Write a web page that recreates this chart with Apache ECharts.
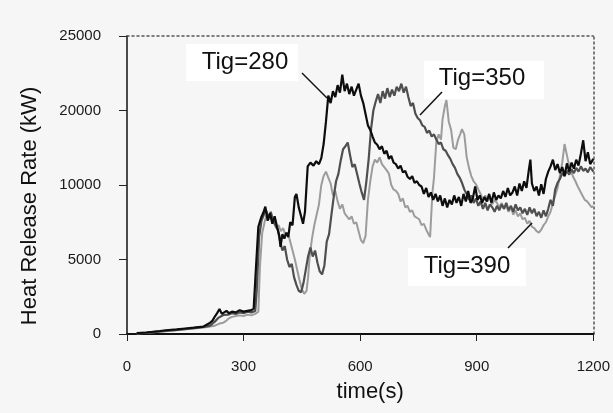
<!DOCTYPE html>
<html><head><meta charset="utf-8">
<script src="https://cdn.jsdelivr.net/npm/echarts@6/dist/echarts.min.js"></script>
<style>html,body{margin:0;padding:0;background:#f6f6f6}#c{width:613px;height:413px}</style>
</head><body><div id="c"></div>
<script>
// ---- data (kW as labelled on the original axis) ----
const xTicks = [0, 300, 600, 900, 1200];
const yTickValues = [0, 5000, 10000, 20000, 25000];
const seriesNames = ['Tig=280', 'Tig=350', 'Tig=390'];

const hrr280 = [[25,60],[50,100],[85,200],[100,250],[128,310],[150,370],[172,430],[197,500],[213,740],[220,900],[226,1170],[232,1400],[238,1680],[244,1350],[250,1450],[256,1550],[262,1400],[270,1500],[280,1450],[290,1600],[300,1500],[310,1550],[320,1600],[326,1700],[332,4500],[338,7200],[345,7800],[351,8150],[356,8550],[362,7600],[368,8100],[374,7400],[380,7900],[386,7200],[392,6600],[395,5850],[400,6700],[405,6400],[410,6800],[415,6500],[420,7500],[426,7300],[432,9200],[436,9400],[442,8500],[448,7900],[453,7400],[458,8200],[465,12500],[472,13000],[480,12600],[487,13200],[494,12800],[500,13600],[506,15500],[512,18500],[518,21000],[524,20500],[530,21300],[536,20900],[542,21700],[548,21200],[554,22400],[560,21300],[566,21800],[572,21100],[578,21600],[584,21000],[590,21400],[596,21800],[602,21000],[608,20500],[614,19500],[620,18000],[626,17400],[632,16500],[638,15700],[644,15400],[650,14800],[656,15200],[662,14200],[668,14600],[674,13500],[680,13900],[686,13000],[692,12800],[698,12200],[704,12600],[710,11700],[716,11900],[722,11100],[728,10800],[734,11200],[740,10300],[746,10500],[752,10000],[758,9900],[764,9400],[770,9800],[776,9200],[782,9500],[788,9000],[794,9400],[800,8900],[806,9300],[812,8600],[818,9100],[824,8500],[830,9000],[836,8700],[842,9300],[848,8800],[854,9200],[860,8600],[866,9400],[872,8900],[878,9600],[884,8800],[890,9100],[896,9900],[902,9000],[908,9300],[914,8800],[920,9200],[926,8900],[932,9400],[938,8800],[944,9500],[950,9000],[956,9300],[962,9100],[968,9600],[974,9200],[980,9800],[986,9300],[992,9500],[998,9900],[1004,9300],[1010,10200],[1016,9600],[1022,10500],[1028,9800],[1034,12000],[1038,13400],[1042,10200],[1048,9600],[1054,9900],[1060,9300],[1066,10100],[1072,9400],[1078,10800],[1084,11800],[1090,12500],[1096,13400],[1102,12000],[1108,12800],[1114,11600],[1120,12400],[1126,11200],[1132,12900],[1138,11800],[1144,13000],[1150,12200],[1156,13400],[1162,12600],[1168,14200],[1174,16000],[1180,13200],[1186,14400],[1192,12800],[1200,13500]];

const hrr350 = [[25,50],[50,90],[85,180],[128,280],[172,400],[197,480],[213,550],[226,830],[236,1100],[248,1280],[260,1300],[270,1400],[280,1350],[290,1450],[300,1400],[310,1500],[320,1450],[330,1550],[334,3000],[340,6500],[346,7600],[352,8000],[358,8300],[364,7800],[370,8200],[376,7600],[382,7300],[388,7000],[394,6200],[400,5600],[406,5900],[412,5000],[418,4500],[424,4700],[430,3800],[436,3300],[442,2900],[448,2800],[454,3400],[460,4300],[466,5200],[472,5800],[478,5200],[484,5600],[490,4800],[496,4200],[502,4000],[508,4600],[514,6200],[520,6700],[526,8000],[532,9200],[538,10500],[544,11500],[550,13300],[556,14800],[562,15200],[568,15700],[574,14000],[580,12400],[586,12800],[592,11500],[598,10200],[604,9500],[610,9000],[616,10500],[622,13500],[628,17500],[634,20000],[640,20600],[646,21100],[652,20500],[658,21300],[664,20800],[670,21500],[676,20900],[682,21400],[688,21000],[694,21600],[700,21300],[706,21800],[712,21200],[718,21600],[724,20900],[730,20300],[736,20500],[742,19600],[748,19000],[754,18700],[760,18000],[766,17800],[772,17000],[778,17300],[784,16500],[790,16800],[796,16100],[802,15500],[808,15700],[814,14800],[820,14600],[826,14000],[832,13500],[838,12800],[844,12300],[850,11500],[856,11000],[862,10300],[868,9700],[874,9400],[880,9000],[886,9300],[892,8800],[898,9100],[904,8600],[910,8900],[916,8400],[922,8800],[928,8300],[934,8700],[940,8500],[946,8200],[952,8600],[958,8300],[964,8700],[970,8400],[976,8800],[982,8300],[988,8600],[994,8200],[1000,8700],[1006,8300],[1012,8500],[1018,8100],[1024,8400],[1030,8000],[1036,8500],[1042,8100],[1048,8400],[1054,7900],[1060,8200],[1066,7800],[1072,8300],[1078,7900],[1084,8400],[1090,9000],[1096,8600],[1102,9700],[1108,10300],[1114,10800],[1120,11600],[1126,11200],[1132,11900],[1138,11400],[1144,12100],[1150,11600],[1156,12300],[1162,11800],[1168,12500],[1174,11900],[1180,12200],[1186,11700],[1192,12400],[1200,11800]];

const hrr390 = [[25,40],[50,80],[85,150],[128,250],[172,370],[197,430],[213,500],[226,560],[238,700],[248,760],[256,900],[262,1050],[270,1150],[280,1200],[290,1250],[300,1200],[310,1300],[320,1250],[330,1350],[338,1500],[342,4500],[348,6800],[354,7500],[360,8100],[366,7700],[372,7900],[378,7500],[384,7100],[390,7300],[396,6900],[402,7100],[408,6600],[414,6800],[420,6200],[426,5600],[432,5000],[438,4300],[444,3600],[450,3000],[456,2700],[462,2900],[466,3800],[470,5200],[476,6400],[482,7300],[488,8000],[494,8700],[500,10000],[506,11200],[512,11800],[518,11000],[524,10200],[530,9300],[536,9600],[542,8900],[548,8400],[554,8700],[560,8100],[566,7900],[572,7700],[578,7900],[584,7400],[590,7500],[596,6900],[602,6300],[608,6100],[614,6600],[620,9000],[626,10500],[632,12500],[638,13400],[644,13000],[650,13700],[656,12800],[662,12400],[668,12000],[674,11500],[680,10000],[686,9700],[692,9600],[698,9400],[704,8900],[710,9100],[716,8500],[722,8600],[728,8200],[734,8300],[740,7900],[746,7800],[752,7700],[758,7300],[764,7400],[770,7000],[776,6700],[780,6500],[786,9500],[790,11000],[796,15800],[802,16800],[808,16100],[812,18800],[818,20300],[822,20700],[828,18500],[834,17400],[840,15000],[846,14800],[852,16100],[858,16900],[862,17500],[868,16800],[874,13800],[880,12300],[886,11200],[892,10500],[898,10100],[904,9700],[910,9400],[916,9000],[922,9300],[928,8900],[934,9200],[940,8700],[946,9000],[952,8800],[958,8500],[964,8800],[970,8400],[976,8600],[982,8200],[988,8500],[994,8000],[1000,8300],[1006,7900],[1012,8100],[1018,7700],[1024,7800],[1030,7400],[1036,7600],[1042,7200],[1048,7100],[1054,6900],[1060,6800],[1066,7000],[1072,7300],[1078,7500],[1084,7900],[1090,8200],[1096,8800],[1102,9300],[1108,9800],[1114,11200],[1120,13000],[1126,15500],[1130,14500],[1136,13000],[1142,12000],[1148,11100],[1154,10500],[1160,9900],[1166,9600],[1172,9300],[1178,9000],[1184,8900],[1190,8700],[1196,8500],[1200,8600]];

// The original y axis is evenly spaced between labelled ticks (0,5000,10000,20000,25000):
// map kW onto that tick-slot scale piecewise-linearly.
function toSlot(v) {
  for (let i = 0; i < yTickValues.length - 1; i++) {
    const a = yTickValues[i], b = yTickValues[i + 1];
    if (v <= b || i === yTickValues.length - 2) return i + (v - a) / (b - a);
  }
}
const mapData = arr => arr.map(p => [p[0], toSlot(p[1])]);

const FONT = "'Liberation Sans', Arial, sans-serif";
const chart = echarts.init(document.getElementById('c'), null, { renderer: 'canvas' });

const option = {
  backgroundColor: '#f6f6f6',
  animation: false,
  grid: { left: 127, right: 17, top: 36, bottom: 79, containLabel: false },
  xAxis: [{
    type: 'value', min: xTicks[0], max: xTicks[xTicks.length - 1], interval: 300,
    name: 'time(s)', nameLocation: 'middle', nameGap: 47,
    nameTextStyle: { fontFamily: FONT, fontSize: 22, color: '#111', padding: [0, 0, 0, 20] },
    axisLine: { show: true, onZero: false, lineStyle: { color: '#111', width: 2 } },
    axisTick: { show: true, inside: false, length: 7, lineStyle: { color: '#222', width: 1 } },
    axisLabel: { fontFamily: FONT, fontSize: 15, color: '#1a1a1a', margin: 25, formatter: v => String(v) },
    splitLine: { show: false }
  }, {
    type: 'value', position: 'top', min: 0, max: 1200,
    axisLine: { show: true, onZero: false, lineStyle: { color: '#555', width: 1.5, type: [2, 3] } },
    axisTick: { show: false }, axisLabel: { show: false }, splitLine: { show: false }
  }],
  yAxis: [{
    type: 'value', min: 0, max: yTickValues.length - 1, interval: 1,
    name: 'Heat Release Rate (kW)', nameLocation: 'middle', nameGap: 86, nameRotate: 90,
    nameTextStyle: { fontFamily: FONT, fontSize: 22, color: '#111', padding: [0, 42, 0, 0] },
    axisLine: { show: true, onZero: false, lineStyle: { color: '#111', width: 1.5 } },
    axisTick: { show: true, inside: false, length: 8, lineStyle: { color: '#222', width: 1 } },
    axisLabel: { fontFamily: FONT, fontSize: 15, color: '#1a1a1a', margin: 26,
      formatter: v => String(yTickValues[Math.round(v)]) },
    splitLine: { show: false }
  }, {
    type: 'value', position: 'right', min: 0, max: yTickValues.length - 1,
    axisLine: { show: true, onZero: false, lineStyle: { color: '#555', width: 1.5, type: [2, 3] } },
    axisTick: { show: false }, axisLabel: { show: false }, splitLine: { show: false }
  }],
  series: [
    { name: seriesNames[2], type: 'line', data: mapData(hrr390), showSymbol: false, symbol: 'none',
      lineStyle: { color: '#9c9c9c', width: 2 }, z: 2 },
    { name: seriesNames[1], type: 'line', data: mapData(hrr350), showSymbol: false, symbol: 'none',
      lineStyle: { color: '#4f4f4f', width: 2.2 }, z: 3 },
    { name: seriesNames[0], type: 'line', data: mapData(hrr280), showSymbol: false, symbol: 'none',
      lineStyle: { color: '#0d0d0d', width: 2.2 }, z: 4 }
  ],
  graphic: [
    { type: 'rect', shape: { x: 186, y: 44, width: 112, height: 37 }, style: { fill: '#ffffff' }, z: 10 },
    { type: 'rect', shape: { x: 424, y: 61, width: 120, height: 38 }, style: { fill: '#ffffff' }, z: 10 },
    { type: 'rect', shape: { x: 408, y: 248, width: 118, height: 38 }, style: { fill: '#ffffff' }, z: 10 },
    { type: 'text', x: 245, y: 62, style: { text: seriesNames[0], font: "24px 'Liberation Sans', Arial, sans-serif", fill: '#111', textAlign: 'center', textVerticalAlign: 'middle' }, z: 11 },
    { type: 'text', x: 482, y: 78, style: { text: seriesNames[1], font: "24px 'Liberation Sans', Arial, sans-serif", fill: '#111', textAlign: 'center', textVerticalAlign: 'middle' }, z: 11 },
    { type: 'text', x: 467, y: 266, style: { text: seriesNames[2], font: "24px 'Liberation Sans', Arial, sans-serif", fill: '#111', textAlign: 'center', textVerticalAlign: 'middle' }, z: 11 },
    { type: 'line', shape: { x1: 302, y1: 73, x2: 327, y2: 98 }, style: { stroke: '#111', lineWidth: 1.5 }, z: 11 },
    { type: 'line', shape: { x1: 442, y1: 92, x2: 420, y2: 115 }, style: { stroke: '#111', lineWidth: 1.5 }, z: 11 },
    { type: 'line', shape: { x1: 508, y1: 248, x2: 532, y2: 223 }, style: { stroke: '#111', lineWidth: 1.5 }, z: 11 }
  ]
};
chart.setOption(option);
</script>
</body></html>
